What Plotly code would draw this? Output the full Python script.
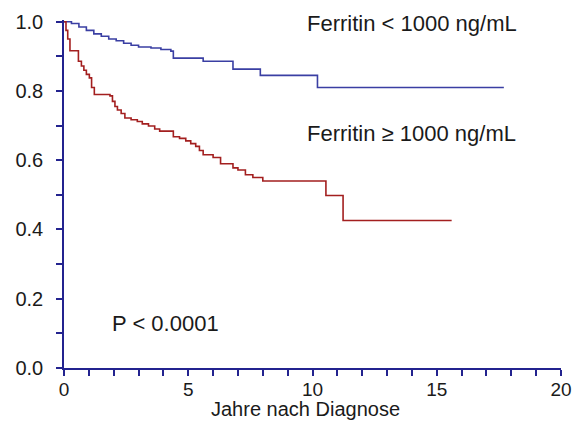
import plotly.graph_objects as go

# Kaplan-Meier step data
low_t = [0, 0.3, 0.6, 0.9, 1.2, 1.5, 1.8, 2.1, 2.4, 2.7, 3.0, 3.5, 3.9, 4.3, 4.4, 5.6, 6.8, 7.9, 10.2, 17.7]
low_s = [1.0, 0.995, 0.985, 0.975, 0.965, 0.958, 0.95, 0.945, 0.938, 0.932, 0.927, 0.924, 0.92, 0.915,
         0.895, 0.886, 0.863, 0.845, 0.81, 0.81]

high_t = [0, 0.08, 0.15, 0.24, 0.58, 0.7, 0.8, 0.9, 1.02, 1.11, 1.22, 1.85, 1.95, 2.05, 2.15, 2.3, 2.45,
          2.7, 2.95, 3.15, 3.4, 3.65, 3.85, 4.4, 4.65, 4.9, 5.1, 5.3, 5.45, 5.6, 6.0, 6.3, 6.8, 7.0, 7.3,
          7.6, 8.0, 10.54, 11.23, 15.6]
high_s = [1.0, 0.975, 0.95, 0.916, 0.886, 0.872, 0.86, 0.848, 0.838, 0.81, 0.79, 0.786, 0.77, 0.755,
          0.745, 0.735, 0.722, 0.717, 0.712, 0.705, 0.699, 0.69, 0.684, 0.668, 0.663, 0.656, 0.648,
          0.64, 0.628, 0.616, 0.608, 0.59, 0.578, 0.572, 0.558, 0.55, 0.54, 0.498, 0.426, 0.426]

x_ticks = [0, 5, 10, 15, 20]
y_ticks = [0.0, 0.2, 0.4, 0.6, 0.8, 1.0]
y_labels = ["0.0", "0.2", "0.4", "0.6", "0.8", "1.0"]

label_low = "Ferritin < 1000 ng/mL"
label_high = "Ferritin ≥ 1000 ng/mL"
p_text = "P < 0.0001"
x_title = "Jahre nach Diagnose"

AX = "#23238f"
FONT = "Liberation Sans, Arial, sans-serif"

fig = go.Figure()
fig.add_trace(go.Scatter(x=low_t, y=low_s, mode="lines", line=dict(shape="hv", color="#3a3fa3", width=1.6),
                         showlegend=False, hoverinfo="skip"))
fig.add_trace(go.Scatter(x=high_t, y=high_s, mode="lines", line=dict(shape="hv", color="#a31f1f", width=1.6),
                         showlegend=False, hoverinfo="skip"))

ann_font = dict(family=FONT, size=22, color="#1a1a1a")
fig.add_annotation(x=14.02, y=0.996, text=label_low, showarrow=False, xanchor="center", yanchor="middle", font=ann_font)
fig.add_annotation(x=14.0, y=0.678, text=label_high, showarrow=False, xanchor="center", yanchor="middle", font=ann_font)
fig.add_annotation(x=4.1, y=0.128, text=p_text, showarrow=False, xanchor="center", yanchor="middle", font=ann_font)
# x-axis title placed as annotation below tick labels
fig.add_annotation(x=0.485, y=-0.118, xref="paper", yref="paper", text=x_title, showarrow=False,
                   xanchor="center", yanchor="middle", font=dict(family=FONT, size=20, color="#1a1a1a"))

fig.update_layout(
    width=574, height=422,
    margin=dict(l=64, r=13, t=20, b=54, autoexpand=False),
    plot_bgcolor="white", paper_bgcolor="white",
    font=dict(family=FONT, color="#1a1a1a"),
)
fig.update_xaxes(
    range=[0, 20], showgrid=False, zeroline=False, automargin=False,
    showline=True, linecolor=AX, linewidth=1.6,
    tickmode="array", tickvals=x_ticks, ticktext=[str(v) for v in x_ticks],
    ticks="outside", ticklen=6, tickwidth=1.5, tickcolor=AX,
    minor=dict(dtick=1, ticks="outside", ticklen=6, tickwidth=1.5, tickcolor=AX, showgrid=False),
    tickfont=dict(family=FONT, size=19, color="#1a1a1a"),
    ticklabelstandoff=-3,
)
fig.update_yaxes(
    range=[0, 1.005], showgrid=False, zeroline=False, automargin=False,
    showline=True, linecolor=AX, linewidth=1.6,
    tickmode="array", tickvals=y_ticks, ticktext=y_labels,
    ticks="outside", ticklen=6, tickwidth=1.5, tickcolor=AX,
    minor=dict(dtick=0.1, ticks="outside", ticklen=6, tickwidth=1.5, tickcolor=AX, showgrid=False),
    tickfont=dict(family=FONT, size=20, color="#1a1a1a"),
    ticklabelstandoff=9,
)

fig.write_html("out.html")
